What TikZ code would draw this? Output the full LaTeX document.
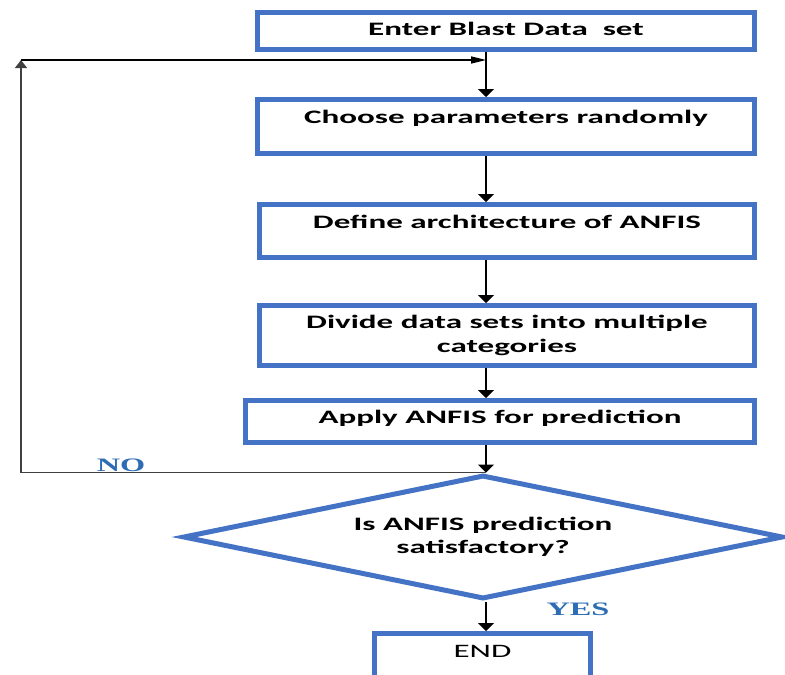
\documentclass[tikz,border=0pt]{standalone}
\usepackage{fontspec}
\setmainfont[FakeStretch=1.74]{Carlito}
\newfontfamily\lblfont[FakeStretch=1.7]{Liberation Serif}
\usetikzlibrary{arrows.meta,shapes.geometric}
\definecolor{bblue}{HTML}{4472C4}
\definecolor{lblue}{HTML}{2E6DB4}
\begin{document}
\begin{tikzpicture}[x=1pt,y=-1pt,
  box/.style={draw=bblue,line width=5pt,inner sep=0pt,anchor=base,font=\fontsize{19}{24}\selectfont\bfseries},
  varr/.style={line width=1.3pt,-{Triangle[width=16pt,length=8pt]}},
  harr/.style={line width=1.3pt,-{Triangle[width=7pt,length=15pt]}},
  lbl/.style={font=\lblfont\fontsize{19}{21}\selectfont\bfseries,text=lblue,anchor=base}]
\useasboundingbox (0,0) rectangle (785,675);
\coordinate (ax) at (486,0);
\coordinate (lc) at (21,60);
\node[box,minimum width=497pt,text height=22.5pt,text depth=14.5pt] (b1) at (506,35) {Enter Blast Data\ \ set};
\node[box,minimum width=497pt,text height=23.5pt,text depth=30.5pt] (b2) at (506,123) {Choose parameters randomly};
\node[box,minimum width=495pt,text height=23.5pt,text depth=29.5pt] (b3) at (507,228) {Define architecture of ANFIS};
\node[box,anchor=center,minimum width=495pt,minimum height=60pt,align=center] (b4) at (507,335.5) {Divide data sets into multiple\\categories};
\node[box,minimum width=509pt,text height=22.5pt,text depth=19.5pt] (b5) at (500,423) {Apply ANFIS for prediction};
\node[draw=bblue,line width=5pt,diamond,aspect=4.8,minimum width=600pt,minimum height=124pt,inner sep=0pt,align=center,font=\fontsize{19}{23}\selectfont\bfseries] (d) at (483,537) {Is ANFIS prediction\\satisfactory?};
\node[box,minimum width=216pt,text height=23.5pt,text depth=43pt,font=\fontsize{19}{24}\selectfont] (e) at (482.5,657) {END};
\draw[varr] (b1.south -| ax) -- (b2.north -| ax);
\draw[varr] (b2.south -| ax) -- (b3.north -| ax);
\draw[varr] (b3.south -| ax) -- (b4.north -| ax);
\draw[varr] (b4.south -| ax) -- (b5.north -| ax);
\draw[varr] (b5.south -| ax) -- (d.north -| ax);
\draw[varr] (d.south -| ax) -- (e.north -| ax);
\draw[line width=1.3pt,black!75,-{Triangle[width=12pt,length=8pt]}] (d.north -| ax) -| (lc);
\draw[harr] (lc) -- (lc -| ax);
\node[lbl] (no) at (121,471) {NO};
\node[lbl] (yes) at (578,615) {YES};
\end{tikzpicture}
\end{document}
